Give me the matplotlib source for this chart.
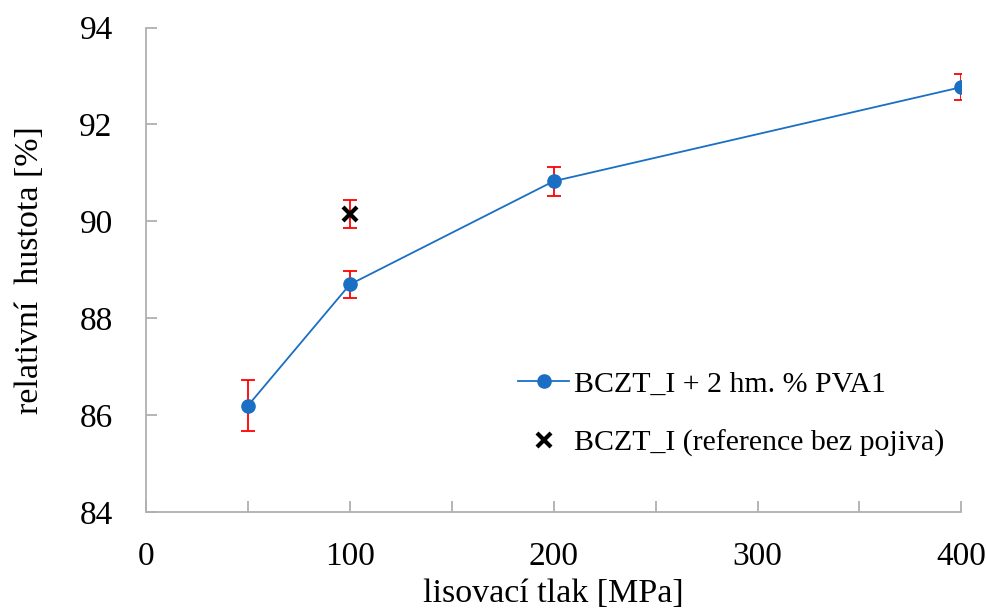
import matplotlib
matplotlib.use("Agg")
import matplotlib.pyplot as plt

# data
tlak = [50, 100, 200, 400]
hustota = [86.2, 88.7, 90.83, 92.77]
chyba = [0.53, 0.28, 0.3, 0.27]

ref_tlak = [100]
ref_hustota = [90.15]
ref_chyba = [0.29]

plt.rcParams['font.family'] = ['Liberation Serif', 'DejaVu Serif']

fig = plt.figure(figsize=(9.87, 6.12), dpi=100)
ax = fig.add_axes([0.148, 0.163, 0.826, 0.792])

# error bars (red)
ax.errorbar(tlak, hustota, yerr=chyba, fmt='none', ecolor='#ff0000',
            elinewidth=1.3, capsize=5, capthick=1.3, zorder=2)
ax.errorbar(ref_tlak, ref_hustota, yerr=ref_chyba, fmt='none', ecolor='#ff0000',
            elinewidth=1.3, capsize=5, capthick=1.3, zorder=2)

# data series
ax.plot(tlak, hustota, '-o', color='#1a6fc4', lw=1.3, ms=9.5,
        label='BCZT_I + 2 hm. % PVA1', zorder=3)
ax.plot(ref_tlak, ref_hustota, 'x', color='black', ms=10, mew=3,
        label='BCZT_I (reference bez pojiva)', zorder=4)

ax.set_xlim(0, 400)
ax.set_ylim(84, 94)
ax.set_xticks([0, 100, 200, 300, 400])
ax.set_xticks([50, 150, 250, 350], minor=True)
ax.set_yticks([84, 86, 88, 90, 92, 94])

for s in ['top', 'right']:
    ax.spines[s].set_visible(False)
for s in ['left', 'bottom']:
    ax.spines[s].set_color('#b0b0b0')
    ax.spines[s].set_linewidth(1.3)

ax.tick_params(axis='both', which='both', direction='in', color='#b0b0b0',
               width=1.3, length=8, labelsize=24)
ax.tick_params(axis='x', which='major', pad=21)
ax.tick_params(axis='y', which='major', pad=24)

ax.set_xlabel('lisovací tlak [MPa]', fontsize=24.5, labelpad=5)
ax.set_ylabel('relativní  hustota [%]', fontsize=24.5, labelpad=25)

ax.legend(loc='upper left', bbox_to_anchor=(0.442, 0.317), frameon=False,
          fontsize=21.5, labelspacing=1.08, handlelength=1.7, handletextpad=0.15,
          borderaxespad=0)

fig.savefig('out.png', dpi=100)
